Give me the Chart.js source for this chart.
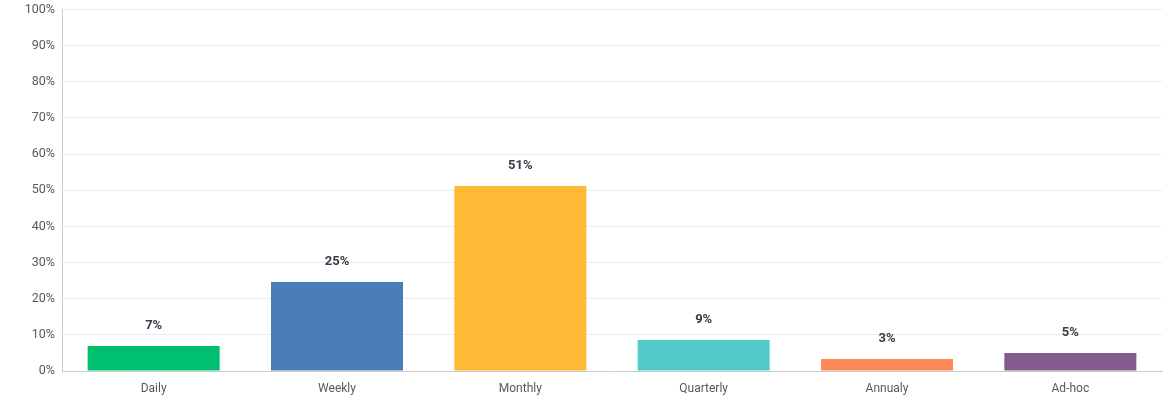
<!DOCTYPE html>
<html>
<head>
<meta charset="utf-8">
<script src="https://cdn.jsdelivr.net/npm/chart.js@4.4.1/dist/chart.umd.min.js"></script>
<style>
  html, body { margin: 0; padding: 0; background: #fff; }
  #wrap { width: 1171px; height: 397px; position: relative; }
</style>
</head>
<body>
<div id="wrap"><canvas id="chart"></canvas></div>
<script>
'use strict';

// ── Data ─────────────────────────────────────────────────────────────────────
var categories = ['Daily', 'Weekly', 'Monthly', 'Quarterly', 'Annualy', 'Ad-hoc'];
var percents   = [6.9, 24.6, 51.2, 8.6, 3.3, 5.0];
var barColors  = ['#00bf6f', '#4a7db5', '#ffba35', '#50cacb', '#ff8a57', '#835b8c'];
var yTicks     = [0, 10, 20, 30, 40, 50, 60, 70, 80, 90, 100];

var FONT = "Roboto, 'Noto Sans', sans-serif";

// ── Value labels above each bar ──────────────────────────────────────────────
var barLabels = {
  id: 'barLabels',
  afterDatasetsDraw: function (chart) {
    var ctx  = chart.ctx;
    var meta = chart.getDatasetMeta(0);
    ctx.save();
    ctx.font = 'bold 13px ' + FONT;
    ctx.fillStyle = '#333e48';
    ctx.textAlign = 'center';
    ctx.textBaseline = 'middle';
    meta.data.forEach(function (bar, i) {
      ctx.fillText(Math.round(percents[i]) + '%', bar.x, bar.y - 20);
    });
    ctx.restore();
  }
};

new Chart(document.getElementById('chart').getContext('2d'), {
  type: 'bar',
  data: {
    labels: categories,
    datasets: [{
      data: percents,
      backgroundColor: barColors,
      borderWidth: 0,
      categoryPercentage: 1.0,
      barPercentage: 0.72
    }]
  },
  options: {
    responsive: true,
    maintainAspectRatio: false,
    animation: false,
    layout: { padding: { left: 0, right: 9, top: 0, bottom: 0 } },
    plugins: {
      legend : { display: false },
      tooltip: { enabled: false }
    },
    scales: {
      x: {
        afterFit: function (axis) { axis.height = 26; },
        grid  : { display: false, drawTicks: false },
        border: { color: '#cccccc', width: 1 },
        ticks : { color: '#555a60', font: { family: FONT, size: 12 }, padding: 11 }
      },
      y: {
        min: 0,
        max: 100,
        afterFit: function (axis) { axis.width = 62; },
        afterBuildTicks: function (axis) {
          axis.ticks = yTicks.map(function (v) { return { value: v }; });
        },
        grid  : { color: '#ececec', drawTicks: false },
        border: { color: '#cccccc', width: 1 },
        ticks : {
          color: '#555a60',
          font : { family: FONT, size: 12.5, lineHeight: 0.4 },
          padding: 7,
          callback: function (v) { return v + '%'; }
        }
      }
    }
  },
  plugins: [barLabels]
});
</script>
</body>
</html>
